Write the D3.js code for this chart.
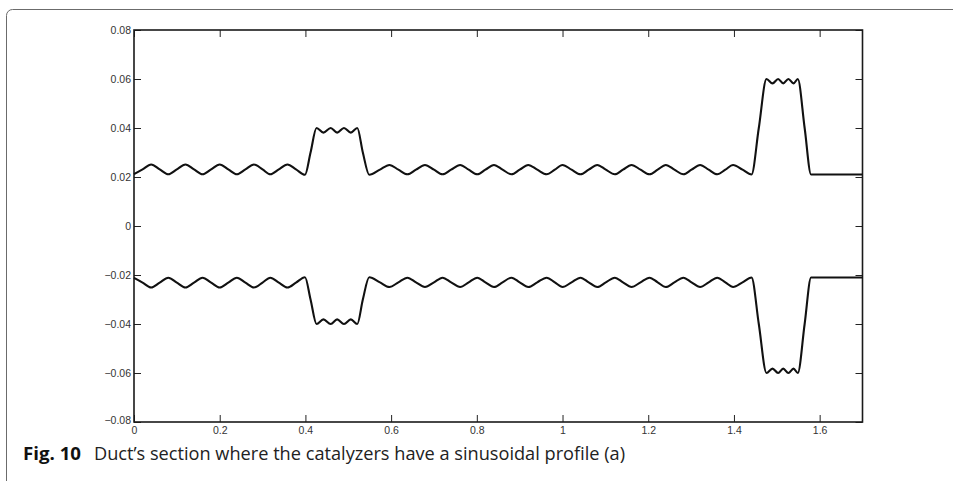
<!DOCTYPE html>
<html>
<head>
<meta charset="utf-8">
<script src="https://cdn.jsdelivr.net/npm/d3@7"></script>
<style>
  html, body { margin: 0; padding: 0; background: #fff; }
  svg { display: block; }
</style>
</head>
<body>
<svg id="chart" width="953" height="481"></svg>
<script>
// Axial positions of the profile knots (extrema and mid-crossings of the wall).
const xKnots = [
  0, 0.02, 0.04, 0.06, 0.08, 0.10, 0.12, 0.14, 0.16, 0.18, 0.20, 0.22, 0.24, 0.26,
  0.28, 0.30, 0.318, 0.338, 0.358, 0.378, 0.399,
  0.412, 0.426, 0.442, 0.459, 0.474, 0.490, 0.506, 0.521, 0.534, 0.549,
  0.574, 0.596, 0.617, 0.638, 0.658, 0.679, 0.700, 0.720, 0.740, 0.761, 0.781,
  0.801, 0.820, 0.840, 0.860, 0.881, 0.900, 0.920, 0.941, 0.963, 0.982, 1.000,
  1.021, 1.042, 1.061, 1.081, 1.101, 1.122, 1.141, 1.161, 1.182, 1.203, 1.222,
  1.241, 1.261, 1.282, 1.301, 1.321, 1.341, 1.361, 1.380, 1.398, 1.420, 1.441,
  1.458, 1.476, 1.490, 1.503, 1.515, 1.527, 1.539, 1.549, 1.565, 1.580, 1.640, 1.700
];

// Upper wall of the duct.
const upperWall = [
  0.0212, 0.0231, 0.0251, 0.0231, 0.0211, 0.0231, 0.0251, 0.0231, 0.0211, 0.0231, 0.0251, 0.0231, 0.0211, 0.0231,
  0.0251, 0.0231, 0.0211, 0.0231, 0.0251, 0.0231, 0.0209,
  0.0300, 0.0400, 0.0381, 0.0400, 0.0381, 0.0400, 0.0381, 0.0400, 0.0300, 0.0209,
  0.0230, 0.0249, 0.0230, 0.0211, 0.0230, 0.0249, 0.0230, 0.0211, 0.0230, 0.0249, 0.0230,
  0.0211, 0.0230, 0.0249, 0.0230, 0.0211, 0.0230, 0.0249, 0.0230, 0.0211, 0.0230, 0.0249,
  0.0230, 0.0211, 0.0230, 0.0249, 0.0230, 0.0211, 0.0230, 0.0249, 0.0230, 0.0211, 0.0230,
  0.0249, 0.0230, 0.0211, 0.0230, 0.0249, 0.0230, 0.0211, 0.0230, 0.0249, 0.0230, 0.0210,
  0.0400, 0.0600, 0.0582, 0.0600, 0.0582, 0.0600, 0.0582, 0.0600, 0.0400, 0.0210, 0.0210, 0.0210
];

// Lower wall of the duct.
const lowerWall = [
  -0.0212, -0.0231, -0.0251, -0.0231, -0.0211, -0.0231, -0.0251, -0.0231, -0.0211, -0.0231, -0.0251, -0.0231, -0.0211, -0.0231,
  -0.0251, -0.0231, -0.0211, -0.0231, -0.0251, -0.0231, -0.0209,
  -0.0300, -0.0400, -0.0381, -0.0400, -0.0381, -0.0400, -0.0381, -0.0400, -0.0300, -0.0209,
  -0.0230, -0.0249, -0.0230, -0.0211, -0.0230, -0.0249, -0.0230, -0.0211, -0.0230, -0.0249, -0.0230,
  -0.0211, -0.0230, -0.0249, -0.0230, -0.0211, -0.0230, -0.0249, -0.0230, -0.0211, -0.0230, -0.0249,
  -0.0230, -0.0211, -0.0230, -0.0249, -0.0230, -0.0211, -0.0230, -0.0249, -0.0230, -0.0211, -0.0230,
  -0.0249, -0.0230, -0.0211, -0.0230, -0.0249, -0.0230, -0.0211, -0.0230, -0.0249, -0.0230, -0.0210,
  -0.0400, -0.0600, -0.0582, -0.0600, -0.0582, -0.0600, -0.0582, -0.0600, -0.0400, -0.0210, -0.0210, -0.0210
];

const xTicks = [0, 0.2, 0.4, 0.6, 0.8, 1, 1.2, 1.4, 1.6];
const xTickLabels = ["0", "0.2", "0.4", "0.6", "0.8", "1", "1.2", "1.4", "1.6"];
const yTicks = [-0.08, -0.06, -0.04, -0.02, 0, 0.02, 0.04, 0.06, 0.08];
const yTickLabels = ["\u22120.08", "\u22120.06", "\u22120.04", "\u22120.02", "0", "0.02", "0.04", "0.06", "0.08"];

const captionLabel = "Fig. 10";
const captionText = "Duct\u2019s section where the catalyzers have a sinusoidal profile (a)";

const svg = d3.select("#chart");

// Panel frame with a rounded corner
svg.append("rect")
  .attr("x", 6.5).attr("y", 9.5)
  .attr("width", 1100).attr("height", 600)
  .attr("rx", 6).attr("ry", 6)
  .attr("fill", "none")
  .attr("stroke", "#6b6b6b")
  .attr("stroke-width", 1);

const plot = { left: 134, right: 862.5, top: 30, bottom: 422 };

const x = d3.scaleLinear().domain([0, 1.7]).range([plot.left, plot.right]);
const y = d3.scaleLinear().domain([-0.08, 0.08]).range([plot.bottom, plot.top]);

const tickLen = 7;
const fontAxis = "'Liberation Sans', Arial, Helvetica, sans-serif";

// Bottom axis with labels, ticks pointing inward
const xAxisBottom = d3.axisBottom(x).tickValues(xTicks)
  .tickSizeInner(-tickLen).tickSizeOuter(0).tickPadding(5)
  .tickFormat((d, i) => xTickLabels[i]);
const gxb = svg.append("g").attr("transform", `translate(0,${plot.bottom})`).call(xAxisBottom);

// Top axis: ticks only
const xAxisTop = d3.axisTop(x).tickValues(xTicks)
  .tickSizeInner(-tickLen).tickSizeOuter(0).tickFormat("");
const gxt = svg.append("g").attr("transform", `translate(0,${plot.top})`).call(xAxisTop);

// Left axis with labels
const yAxisLeft = d3.axisLeft(y).tickValues(yTicks)
  .tickSizeInner(-tickLen).tickSizeOuter(0).tickPadding(3)
  .tickFormat((d, i) => yTickLabels[i]);
const gyl = svg.append("g").attr("transform", `translate(${plot.left},0)`).call(yAxisLeft);

// Right axis: ticks only
const yAxisRight = d3.axisRight(y).tickValues(yTicks)
  .tickSizeInner(-tickLen).tickSizeOuter(0).tickFormat("");
const gyr = svg.append("g").attr("transform", `translate(${plot.right},0)`).call(yAxisRight);

[gxb, gxt, gyl, gyr].forEach(g => {
  g.select(".domain").remove();
  g.selectAll(".tick line").attr("stroke", "#222").attr("stroke-width", 1);
  g.selectAll(".tick text")
    .attr("fill", "#333")
    .style("font-family", fontAxis)
    .style("font-size", "10.5px");
});

// Nudge the lowest y label down a little, as the plotting package does
gyl.selectAll(".tick text").attr("dy", (d) => d === -0.08 ? "0.15em" : "0.32em");

// Axes box
svg.append("rect")
  .attr("x", plot.left).attr("y", plot.top)
  .attr("width", plot.right - plot.left).attr("height", plot.bottom - plot.top)
  .attr("fill", "none")
  .attr("stroke", "#1a1a1a")
  .attr("stroke-width", 1.6);

// Duct walls
const line = d3.line()
  .x((d, i) => x(xKnots[i]))
  .y(d => y(d))
  .curve(d3.curveMonotoneX);

[upperWall, lowerWall].forEach(series => {
  svg.append("path")
    .datum(series)
    .attr("d", line)
    .attr("fill", "none")
    .attr("stroke", "#111")
    .attr("stroke-width", 2.1)
    .attr("stroke-linejoin", "round");
});

// Caption
const fontCaption = "'Open Sans', 'Noto Sans', sans-serif";
svg.append("text")
  .attr("x", 23).attr("y", 460)
  .attr("fill", "#111")
  .style("font-family", fontCaption)
  .style("font-weight", "700")
  .style("font-size", "18px")
  .attr("textLength", 58)
  .attr("lengthAdjust", "spacingAndGlyphs")
  .text(captionLabel);

svg.append("text")
  .attr("x", 94).attr("y", 460)
  .attr("fill", "#222")
  .style("font-family", fontCaption)
  .style("font-size", "18px")
  .attr("textLength", 531)
  .attr("lengthAdjust", "spacingAndGlyphs")
  .text(captionText);
</script>
</body>
</html>
